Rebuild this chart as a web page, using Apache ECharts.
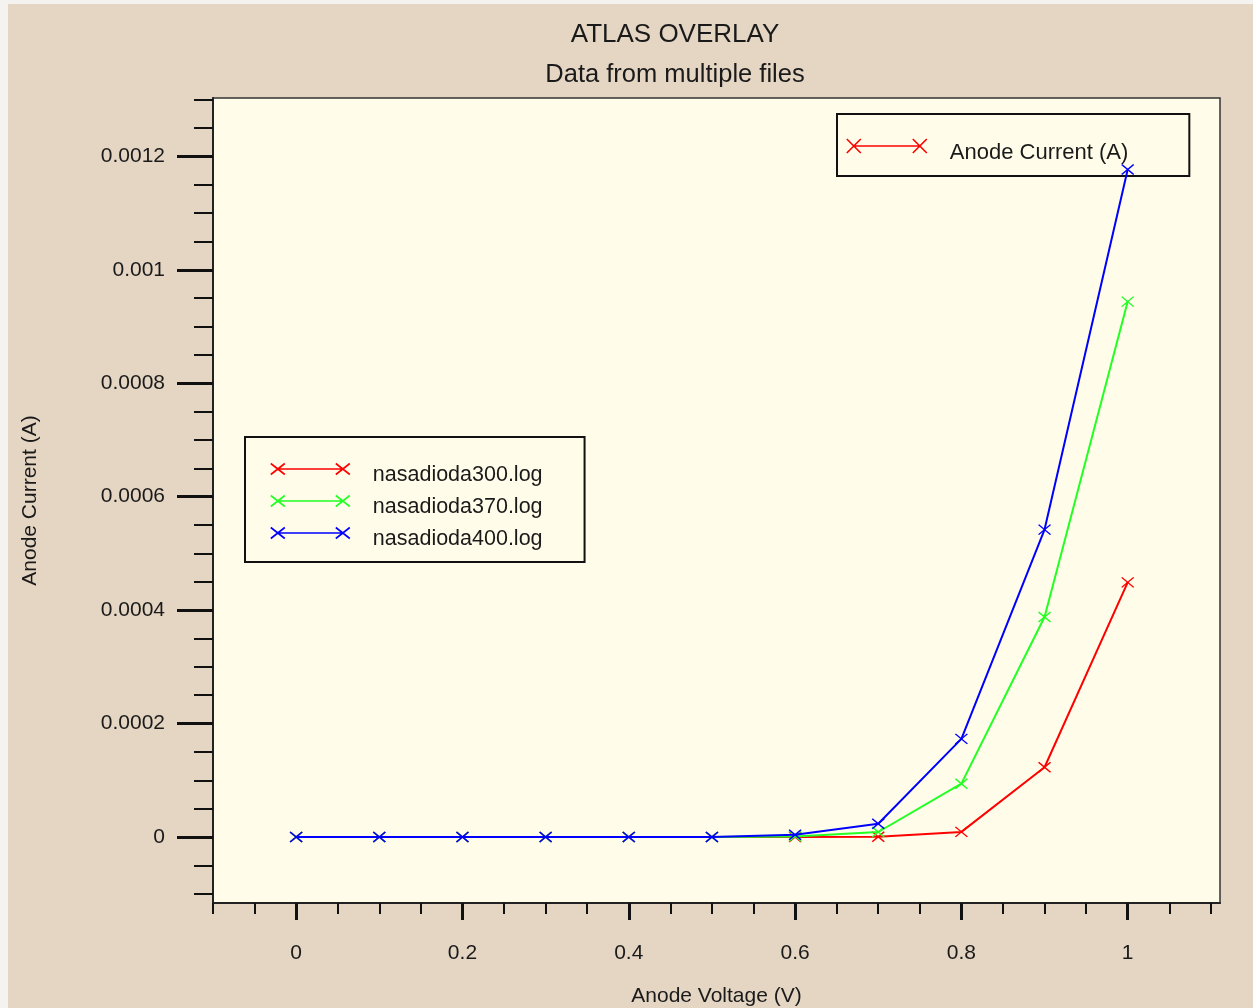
<!DOCTYPE html>
<html>
<head>
<meta charset="utf-8">
<title>ATLAS OVERLAY</title>
<script src="https://cdn.jsdelivr.net/npm/echarts@6/dist/echarts.min.js"></script>
<style>
  html, body { margin: 0; padding: 0; width: 1253px; height: 1008px; overflow: hidden; background: #f5f3f0; }
  #chart { position: absolute; left: 8px; top: 4px; width: 1245px; height: 1004px; }
</style>
</head>
<body>
<div id="chart"></div>
<script>
// Anode voltage sweep (V)
const voltage = [0, 0.1, 0.2, 0.3, 0.4, 0.5, 0.6, 0.7, 0.8, 0.9, 1.0];

// Anode current (A) for each log file
const current300 = [0, 0, 0, 0, 0, 0, 0.0000001, 0.0000005, 0.000009, 0.000123, 0.000449];
const current370 = [0, 0, 0, 0, 0, 0, 0.000001, 0.0000088, 0.000094, 0.000388, 0.000944];
const current400 = [0, 0, 0, 0, 0, 0, 0.000004, 0.0000234, 0.000173, 0.000542, 0.001177];

const seriesNames = ['nasadioda300.log', 'nasadioda370.log', 'nasadioda400.log'];
const seriesColors = ['#ff0000', '#22ff22', '#0000ff'];

// Tick positions
const xMajorTicks = [0, 0.2, 0.4, 0.6, 0.8, 1];
const xMinorTicks = [-0.1, -0.05, 0.05, 0.1, 0.15, 0.25, 0.3, 0.35, 0.45, 0.5, 0.55,
                     0.65, 0.7, 0.75, 0.85, 0.9, 0.95, 1.05, 1.1];
const yMajorTicks = [0, 0.0002, 0.0004, 0.0006, 0.0008, 0.001, 0.0012];
const yMinorTicks = [-0.0001, -0.00005, 0.00005, 0.0001, 0.00015, 0.00025, 0.0003, 0.00035,
                     0.00045, 0.0005, 0.00055, 0.00065, 0.0007, 0.00075, 0.00085, 0.0009,
                     0.00095, 0.00105, 0.0011, 0.00115, 0.00125, 0.0013];

const FONT = "'Liberation Sans', Arial, sans-serif";
const TEXT = '#1a1a1a';
const X_MARK = 'path://M0,0L10,10M10,0L0,10';
const ICON_WIDE = 'path://M0,0L14,14M14,0L0,14M7,7L73,7M66,0L80,14M80,0L66,14';
const ICON_FILE = 'path://M0,0L14,11M14,0L0,11M7,5.5L72,5.5M65,0L79,11M79,0L65,11';

const X_MIN = -0.1, X_MAX = 1.111;
const Y_MIN = -0.0001164, Y_MAX = 0.001303;

const fmt = v => String(Number(Number(v).toPrecision(6)));

function curve(name, color, values, z) {
  return {
    type: 'line',
    name: name,
    xAxisIndex: 0,
    yAxisIndex: 0,
    data: voltage.map((v, i) => [v, values[i]]),
    symbol: X_MARK,
    symbolSize: [12, 10],
    showAllSymbol: true,
    lineStyle: { color: color, width: 2 },
    itemStyle: { color: color, borderColor: color, borderWidth: 1.4 },
    emphasis: { disabled: true },
    z: z
  };
}

const chart = echarts.init(document.getElementById('chart'), null, { renderer: 'canvas' });

chart.setOption({
  animation: false,
  backgroundColor: '#e5d6c4',
  title: {
    text: 'ATLAS OVERLAY',
    subtext: 'Data from multiple files',
    left: 662,
    top: 12,
    textAlign: 'center',
    itemGap: 12,
    textStyle: { fontFamily: FONT, fontSize: 26, lineHeight: 28, fontWeight: 'normal', color: TEXT },
    subtextStyle: { fontFamily: FONT, fontSize: 25.5, lineHeight: 28, color: TEXT }
  },
  legend: [
    {
      data: [{
        name: 'Anode Current (A)',
        icon: ICON_WIDE,
        itemStyle: { color: '#ff0000', borderColor: '#ff0000', borderWidth: 1.6 }
      }],
      left: 829,
      top: 110,
      orient: 'vertical',
      itemWidth: 80,
      itemHeight: 14,
      itemGap: 0,
      padding: [14, 61, 12, 9],
      borderColor: '#111',
      borderWidth: 2,
      selectedMode: false,
      formatter: '{t|{name}}',
      textStyle: {
        rich: { t: { fontFamily: FONT, fontSize: 22, lineHeight: 22, padding: [14, 0, 0, 18], color: TEXT } }
      }
    },
    {
      data: seriesNames.map((n, i) => ({
        name: n,
        icon: ICON_FILE,
        itemStyle: { color: seriesColors[i], borderColor: seriesColors[i], borderWidth: 1.6 }
      })),
      left: 237,
      top: 433,
      orient: 'vertical',
      itemWidth: 79,
      itemHeight: 11,
      itemGap: -2,
      padding: [15, 42, 12, 25],
      borderColor: '#111',
      borderWidth: 2,
      selectedMode: false,
      formatter: '{t|{name}}',
      textStyle: {
        rich: { t: { fontFamily: FONT, fontSize: 21.5, lineHeight: 20, padding: [12, 0, 0, 18], color: TEXT } }
      }
    }
  ],
  grid: {
    left: 205,
    right: 33,
    top: 94,
    bottom: 105,
    show: true,
    backgroundColor: '#fffde9',
    borderColor: '#333',
    borderWidth: 1.5,
    containLabel: false,
    outerBoundsMode: 'none'
  },
  xAxis: [
    {
      type: 'value',
      position: 'bottom',
      min: X_MIN,
      max: X_MAX,
      name: 'Anode Voltage (V)',
      nameLocation: 'middle',
      nameGap: 81,
      nameTextStyle: { fontFamily: FONT, fontSize: 21, lineHeight: 24, color: TEXT },
      axisLine: { show: true, onZero: false, lineStyle: { color: '#222', width: 2 } },
      axisTick: { show: true, customValues: xMajorTicks, length: 17, lineStyle: { color: '#111', width: 3 } },
      axisLabel: {
        show: true, customValues: xMajorTicks, margin: 38, formatter: fmt,
        fontFamily: FONT, fontSize: 21, lineHeight: 24, color: TEXT
      },
      splitLine: { show: false }
    },
    {
      type: 'value',
      position: 'bottom',
      min: X_MIN,
      max: X_MAX,
      axisLine: { show: false, onZero: false },
      axisTick: { show: true, customValues: xMinorTicks, length: 11, lineStyle: { color: '#111', width: 2 } },
      axisLabel: { show: false },
      splitLine: { show: false }
    }
  ],
  yAxis: [
    {
      type: 'value',
      position: 'left',
      min: Y_MIN,
      max: Y_MAX,
      name: 'Anode Current (A)',
      nameLocation: 'middle',
      nameGap: 171,
      nameTextStyle: { fontFamily: FONT, fontSize: 21, lineHeight: 24, color: TEXT },
      axisLine: { show: true, onZero: false, lineStyle: { color: '#222', width: 2 } },
      axisTick: { show: true, customValues: yMajorTicks, length: 36, lineStyle: { color: '#111', width: 3 } },
      axisLabel: {
        show: true, customValues: yMajorTicks, margin: 48, formatter: fmt,
        fontFamily: FONT, fontSize: 21, lineHeight: 24, color: TEXT
      },
      splitLine: { show: false }
    },
    {
      type: 'value',
      position: 'left',
      min: Y_MIN,
      max: Y_MAX,
      axisLine: { show: false, onZero: false },
      axisTick: { show: true, customValues: yMinorTicks, length: 19, lineStyle: { color: '#111', width: 2 } },
      axisLabel: { show: false },
      splitLine: { show: false }
    }
  ],
  series: [
    // carries the "Anode Current (A)" legend entry only
    { type: 'line', name: 'Anode Current (A)', data: [], color: '#ff0000', xAxisIndex: 0, yAxisIndex: 0 },
    curve(seriesNames[0], seriesColors[0], current300, 3),
    curve(seriesNames[1], seriesColors[1], current370, 4),
    curve(seriesNames[2], seriesColors[2], current400, 5)
  ]
});
</script>
</body>
</html>
